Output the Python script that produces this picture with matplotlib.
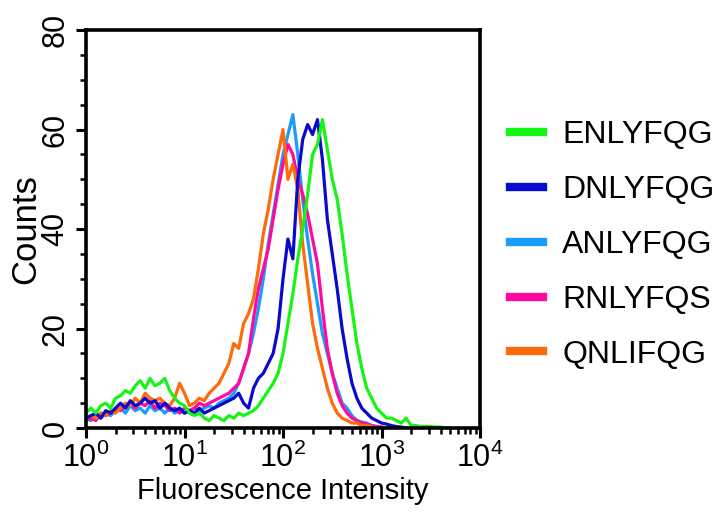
import numpy as np
import matplotlib
matplotlib.use('Agg')
import matplotlib.pyplot as plt
from matplotlib.ticker import MultipleLocator, LogLocator

plt.rcParams['font.family'] = ['Liberation Sans', 'DejaVu Sans']

# log10 channel positions (every 0.05 decade)
log_ch = np.round(np.arange(0, 3.71, 0.05), 2)

labels = ['ENLYFQG', 'DNLYFQG', 'ANLYFQG', 'RNLYFQS', 'QNLIFQG']
colors = ['#14f514', '#0a0acc', '#1a9cff', '#ff0a9c', '#ff6a0a']

green = [3, 4, 3, 4.5, 5, 4, 6, 6.5, 7.5, 7, 8.5, 9.5, 8, 10, 8.5, 9, 10, 7.5, 6, 5,
         4.5, 3, 2.5, 3, 2, 1.5, 2.5, 2, 1.5, 2.5, 2, 3, 2.5, 3, 3.5, 4.5, 6, 7.5, 9, 11,
         15, 21, 27, 34, 40, 47, 55, 57, 62, 56, 50, 46, 39, 31, 24, 17, 12, 8, 6, 4,
         3, 2, 2, 1.5, 1, 2, 0.5, 0.5, 0.3, 0.3, 0.3, 0.2, 0.2, 0, 0]
blue = [2, 2.5, 3, 2, 3.5, 3, 4, 5, 4, 5.5, 4.5, 5, 6, 5, 5.5, 4, 5, 4, 3.5, 4,
        3, 3.5, 3, 4, 3, 3.5, 4, 4.5, 5, 5.5, 6, 7, 5, 4, 8, 10, 11, 13, 15, 20,
        30, 38, 34, 50, 58, 61, 59, 62, 54, 42, 35, 28, 20, 14, 9, 6, 4, 3, 2, 1.5,
        1, 0.8, 0.5, 0.3, 0.2, 0]
lightblue = [2, 1.5, 2.5, 2, 3, 2.5, 3.5, 4, 3, 4.5, 3.5, 4, 3, 4.5, 3.5, 4, 3, 4, 3, 3.5,
             3, 3.5, 4, 3.5, 4, 4.5, 4, 5, 5.5, 6, 7, 9, 12, 15, 19, 24, 30, 37, 43, 49,
             55, 59, 63, 55, 46, 38, 31, 25, 19, 15, 11, 8, 5, 4, 2.5, 1.5, 1.2, 1, 0.5, 0.3,
             0.2, 0]
magenta = [1.5, 2, 1.5, 3, 2.5, 3, 4, 3.5, 4.5, 5, 4, 5, 4.5, 5.5, 4, 5, 4.5, 3.5, 4, 3,
           4, 3.5, 4, 5, 4.5, 5, 5.5, 6, 6.5, 7, 8, 9, 12, 15, 22, 28, 32, 36, 42, 48,
           53, 57, 55, 50, 47, 43, 38, 33, 24, 16, 11, 7, 4.5, 3, 2, 1.5, 1, 0.8, 0.5, 0.3,
           0.2, 0]
orange = [2, 2.5, 2, 3, 2.5, 3.5, 3, 4, 5, 4.5, 6, 5, 7, 6, 5.5, 6, 5, 4.5, 6, 9,
          7, 4.5, 5, 6, 5.5, 7, 8, 9, 11, 13, 17, 16, 21, 23, 26, 32, 39, 44, 50, 55,
          60, 50, 53, 48, 37, 29, 21, 16, 12, 8, 5, 3, 2, 1.5, 1, 1, 0.5, 0.5, 0.3, 0]

series = [green, blue, lightblue, magenta, orange]

fig = plt.figure(figsize=(7.24, 5.22), dpi=100)
ax = fig.add_axes([0.1188, 0.180, 0.5442, 0.7625])

lines = []
for lab, col, vals in zip(labels, colors, series):
    x = 10 ** log_ch[:len(vals)]
    ln, = ax.plot(x, vals, color=col, lw=2.3, label=lab)
    lines.append(ln)
# draw order: orange/magenta over light blue, green on top
for z, ln in zip([5, 4, 2, 3, 3.5], lines):
    ln.set_zorder(z)

ax.set_xscale('log')
ax.set_xlim(1, 1e4)
ax.set_ylim(0, 80)
ax.yaxis.set_major_locator(MultipleLocator(20))
ax.yaxis.set_minor_locator(MultipleLocator(5))
ax.xaxis.set_major_locator(LogLocator(base=10, numticks=10))
ax.xaxis.set_minor_locator(LogLocator(base=10, subs=np.arange(2, 10), numticks=10))

for sp in ax.spines.values():
    sp.set_linewidth(2.6)
    sp.set_zorder(10)

ax.tick_params(axis='both', which='major', direction='out', length=7, width=2.2, labelsize=22)
ax.tick_params(axis='both', which='minor', direction='out', length=4, width=1.8)
ax.tick_params(axis='y', labelrotation=90, pad=4)
for t in ax.get_yticklabels():
    t.set_va('center')

ax.set_ylabel('Counts', fontsize=25)
ax.yaxis.set_label_coords(-0.112, 0.5)
ax.set_xlabel('Fluorescence Intensity', fontsize=21, labelpad=2)

fig.legend(handles=lines, labels=labels, loc='center left',
           bbox_to_anchor=(0.704, 0.531), bbox_transform=fig.transFigure,
           frameon=False, fontsize=23, handlelength=1.05, handletextpad=0.6,
           labelspacing=0.78, borderpad=0, borderaxespad=0)
for h in fig.legends[0].get_lines():
    h.set_linewidth(6)

fig.savefig('out.png', dpi=100)
